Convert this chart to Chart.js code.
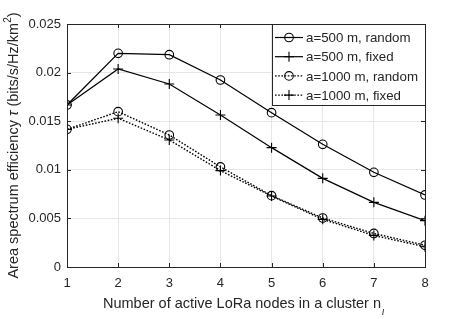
<!DOCTYPE html>
<html>
<head>
<meta charset="utf-8">
<script src="https://cdn.jsdelivr.net/npm/chart.js@4.4.1/dist/chart.umd.min.js"></script>
<style>
  html, body { margin: 0; padding: 0; background: #fff; }
  #wrap { width: 471px; height: 319px; }
</style>
</head>
<body>
<div id="wrap"><canvas id="myChart" width="471" height="319"></canvas></div>
<script>
// data
const nodes = [1, 2, 3, 4, 5, 6, 7, 8];
const random500 = [0.01667, 0.02198, 0.02184, 0.01924, 0.01588, 0.01262, 0.00974, 0.00741];
const fixed500 = [0.01667, 0.02037, 0.01883, 0.01564, 0.01228, 0.00912, 0.00665, 0.00477];
const random1000 = [0.01416, 0.01598, 0.01358, 0.01030, 0.00734, 0.00504, 0.00345, 0.00224];
const fixed1000 = [0.01416, 0.01530, 0.01307, 0.00992, 0.00730, 0.00490, 0.00325, 0.00208];
const seriesNames = ['a=500 m, random', 'a=500 m, fixed', 'a=1000 m, random', 'a=1000 m, fixed'];
const xTickLabels = ['1', '2', '3', '4', '5', '6', '7', '8'];
const yTickValues = [0, 0.005, 0.01, 0.015, 0.02, 0.025];
const yTickLabels = ['0', '0.005', '0.01', '0.015', '0.02', '0.025'];

const FONT = '"Liberation Sans", Arial, sans-serif';
const TEXT = '#262626';
const TITLE_SIZE = 14.5;

function pts(ys) {
  return nodes.map((x, i) => ({x: x, y: ys[i]}));
}

function makeSet(label, ys, style, dotted) {
  return {
    label: label,
    data: pts(ys),
    borderColor: '#000',
    borderWidth: dotted ? 1.4 : 1.2,
    borderDash: dotted ? [1.6, 1.6] : [],
    pointStyle: style,
    pointRadius: style === 'circle' ? 4.3 : 5,
    pointBorderWidth: 1.1,
    pointBorderColor: '#000',
    pointBackgroundColor: 'rgba(0,0,0,0)',
    tension: 0,
    fill: false
  };
}

// box, inner ticks, axis titles and legend
const decor = {
  id: 'decor',
  afterDraw(chart) {
    const ctx = chart.ctx;
    const a = chart.chartArea;
    const xs = chart.scales.x, ys = chart.scales.y;
    ctx.save();
    ctx.strokeStyle = '#262626';
    ctx.lineWidth = 1;
    // inner ticks
    ctx.beginPath();
    nodes.forEach(v => {
      const px = Math.round(xs.getPixelForValue(v)) + 0.5;
      ctx.moveTo(px, a.bottom); ctx.lineTo(px, a.bottom - 4);
      ctx.moveTo(px, a.top); ctx.lineTo(px, a.top + 4);
    });
    yTickValues.forEach(v => {
      const py = Math.round(ys.getPixelForValue(v)) + 0.5;
      ctx.moveTo(a.left, py); ctx.lineTo(a.left + 4, py);
      ctx.moveTo(a.right, py); ctx.lineTo(a.right - 4, py);
    });
    ctx.stroke();
    ctx.strokeRect(Math.round(a.left) + 0.5, Math.round(a.top) + 0.5,
      Math.round(a.right - a.left), Math.round(a.bottom - a.top));

    // x title
    ctx.fillStyle = TEXT;
    ctx.textBaseline = 'alphabetic';
    ctx.textAlign = 'left';
    ctx.font = TITLE_SIZE + 'px ' + FONT;
    const xt = 'Number of active LoRa nodes in a cluster n';
    const w = ctx.measureText(xt).width;
    const cx = (a.left + a.right) / 2;
    const x0 = cx - w / 2 - 4;
    ctx.fillText(xt, x0, 308);
    ctx.font = 'italic 10px ' + FONT;
    ctx.fillText('ι', x0 + w + 1, 315);

    // y title
    ctx.translate(18, (a.top + a.bottom) / 2);
    ctx.rotate(-Math.PI / 2);
    const p1 = 'Area spectrum efficiency ';
    const p2 = 'τ';
    const p3 = ' (bits/s/Hz/km';
    const p4 = '2';
    const p5 = ')';
    const base = TITLE_SIZE + 'px ' + FONT;
    const ital = 'italic ' + TITLE_SIZE + 'px ' + FONT;
    const sup = '10px ' + FONT;
    ctx.font = base;
    const w1 = ctx.measureText(p1).width;
    const w3 = ctx.measureText(p3).width;
    const w5 = ctx.measureText(p5).width;
    ctx.font = ital;
    const w2 = ctx.measureText(p2).width;
    ctx.font = sup;
    const w4 = ctx.measureText(p4).width;
    let tx = -(w1 + w2 + w3 + w4 + w5) / 2;
    ctx.font = base;
    ctx.fillText(p1, tx, 0); tx += w1;
    ctx.font = ital;
    ctx.fillText(p2, tx, 0); tx += w2;
    ctx.font = base;
    ctx.fillText(p3, tx, 0); tx += w3;
    ctx.font = sup;
    ctx.fillText(p4, tx, -7); tx += w4;
    ctx.font = base;
    ctx.fillText(p5, tx, 0);
    ctx.restore();

    // legend
    ctx.save();
    const lx = 272, ly = Math.round(a.top), lw = Math.round(a.right) - lx, lh = 81;
    ctx.fillStyle = '#fff';
    ctx.fillRect(lx, ly, lw, lh);
    ctx.strokeStyle = '#262626';
    ctx.lineWidth = 1;
    ctx.strokeRect(lx + 0.5, ly + 0.5, lw, lh);
    chart.data.datasets.forEach((ds, i) => {
      const yy = ly + 13.5 + i * 19.2;
      ctx.strokeStyle = '#000';
      ctx.lineWidth = ds.borderWidth;
      ctx.setLineDash(ds.borderDash);
      ctx.beginPath();
      ctx.moveTo(275, yy); ctx.lineTo(303, yy);
      ctx.stroke();
      ctx.setLineDash([]);
      ctx.lineWidth = ds.pointBorderWidth;
      ctx.fillStyle = 'rgba(0,0,0,0)';
      Chart.helpers.drawPoint(ctx, {pointStyle: ds.pointStyle, radius: ds.pointRadius, rotation: 0, borderWidth: ds.pointBorderWidth}, 289, yy);
      ctx.fillStyle = TEXT;
      ctx.font = '13.3px ' + FONT;
      ctx.textBaseline = 'middle';
      ctx.textAlign = 'left';
      ctx.fillText(ds.label, 306, yy + 1);
    });
    ctx.restore();
  }
};

const ctx = document.getElementById('myChart').getContext('2d');
const myChart = new Chart(ctx, {
  type: 'line',
  data: {
    datasets: [
      makeSet(seriesNames[0], random500, 'circle', false),
      makeSet(seriesNames[1], fixed500, 'cross', false),
      makeSet(seriesNames[2], random1000, 'circle', true),
      makeSet(seriesNames[3], fixed1000, 'cross', true)
    ]
  },
  options: {
    responsive: false,
    animation: false,
    layout: { padding: { top: 24, right: 46, left: 0, bottom: 0 } },
    plugins: { legend: { display: false }, tooltip: { enabled: false } },
    scales: {
      x: {
        type: 'linear',
        min: 1, max: 8,
        afterFit(scale) { scale.height = 52; },
        afterBuildTicks(scale) { scale.ticks = nodes.map(v => ({value: v})); },
        border: { display: false },
        grid: { color: '#e6e6e6', drawTicks: false },
        ticks: {
          padding: 9,
          color: TEXT,
          font: { family: FONT, size: 13 },
          callback: (v, i) => xTickLabels[i]
        }
      },
      y: {
        type: 'linear',
        min: 0, max: 0.025,
        afterFit(scale) { scale.width = 67; },
        afterBuildTicks(scale) { scale.ticks = yTickValues.map(v => ({value: v})); },
        border: { display: false },
        grid: { color: '#e6e6e6', drawTicks: false },
        ticks: {
          padding: 6,
          color: TEXT,
          font: { family: FONT, size: 13 },
          callback: (v, i) => yTickLabels[i]
        }
      }
    }
  },
  plugins: [decor]
});
</script>
</body>
</html>
